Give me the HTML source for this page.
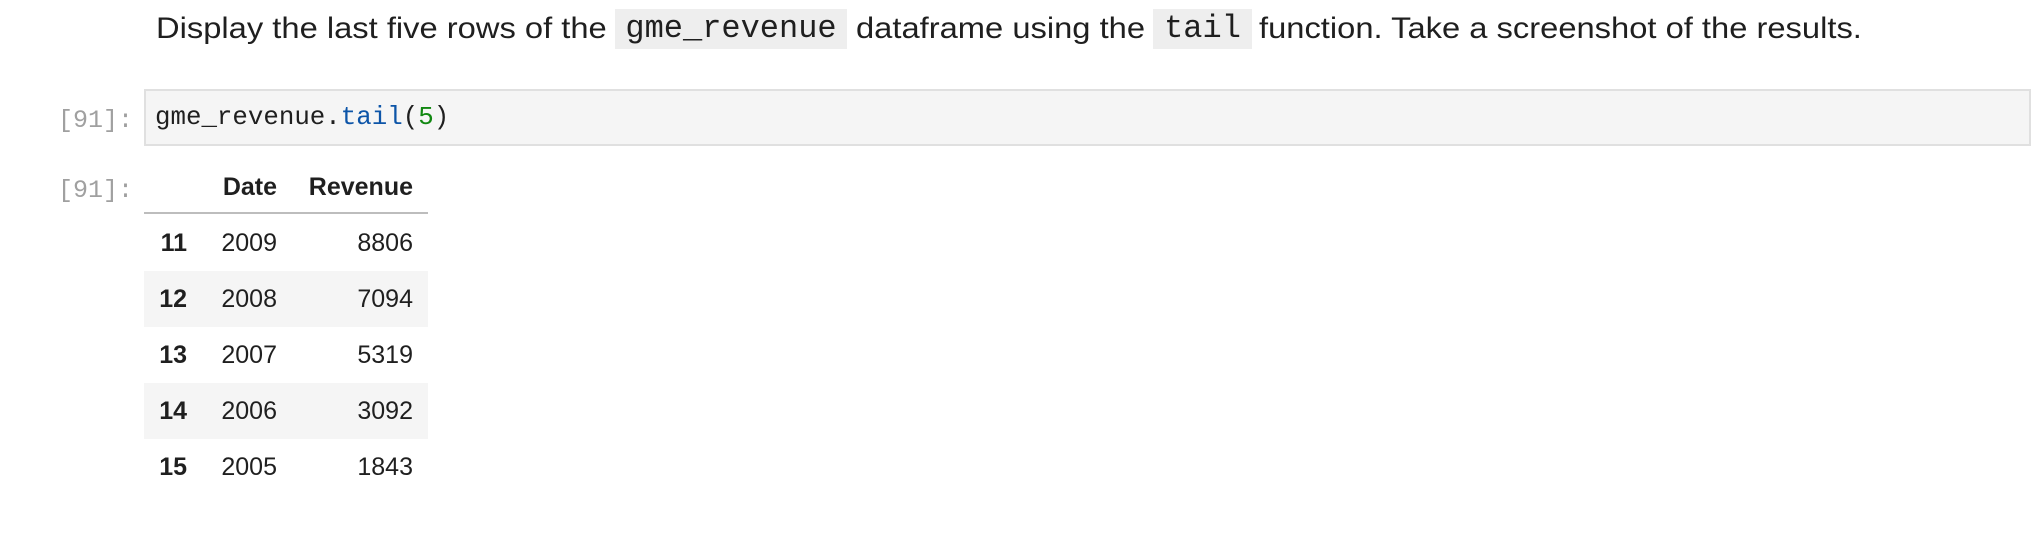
<!DOCTYPE html>
<html><head><meta charset="utf-8"><style>
body{margin:0;width:2040px;height:534px;background:#fff;position:relative;overflow:hidden;font-family:"Liberation Sans",sans-serif;color:#1f1f1f}
.a{position:absolute;white-space:nowrap}
.t{font-size:30px;line-height:40px;top:9px;transform:scaleX(1.09);transform-origin:left center}
.ic{position:absolute;top:9px;height:40px;background:#eeeeee;font-family:"Liberation Mono",monospace;font-size:32px;line-height:40px;text-align:center;color:#1f1f1f}
.mono{font-family:"Liberation Mono",monospace}
.pr{color:#a0a0a0;font-size:25px;font-family:"Liberation Mono",monospace}
.cell{left:144px;top:89px;width:1887px;height:57px;background:#f5f5f5;border:2px solid #e0e0e0;box-sizing:border-box}
.row{left:144px;width:284px;height:56px}
.c{position:absolute;font-size:25px;line-height:56px}
.b{font-weight:bold}
</style></head><body>
<div class="a t" style="left:156px">Display the last five rows of the</div>
<div class="ic" style="left:615px;width:232px">gme_revenue</div>
<div class="a t" style="left:856px">dataframe using the</div>
<div class="ic" style="left:1153px;width:99px">tail</div>
<div class="a t" style="left:1259px">function. Take a screenshot of the results.</div>
<div class="a pr" style="left:58px;top:106px">[91]:</div>
<div class="a cell"></div>
<div class="a mono" style="left:155px;top:103px;font-size:25.8px;color:#1f1f1f">gme_revenue.<span style="color:#0d55a8">tail</span>(<span style="color:#118811">5</span>)</div>
<div class="a pr" style="left:58px;top:176px">[91]:</div>
<div class="a row" style="top:159px"><span class="c b" style="right:151px">Date</span><span class="c b" style="right:15px">Revenue</span></div>
<div class="a" style="left:144px;top:212px;width:284px;height:2px;background:#bdbdbd"></div>
<div class="a row" style="top:215px"><span class="c b" style="right:241px">11</span><span class="c" style="right:151px">2009</span><span class="c" style="right:15px">8806</span></div>
<div class="a row" style="top:271px;background:#f5f5f5"><span class="c b" style="right:241px">12</span><span class="c" style="right:151px">2008</span><span class="c" style="right:15px">7094</span></div>
<div class="a row" style="top:327px"><span class="c b" style="right:241px">13</span><span class="c" style="right:151px">2007</span><span class="c" style="right:15px">5319</span></div>
<div class="a row" style="top:383px;background:#f5f5f5"><span class="c b" style="right:241px">14</span><span class="c" style="right:151px">2006</span><span class="c" style="right:15px">3092</span></div>
<div class="a row" style="top:439px"><span class="c b" style="right:241px">15</span><span class="c" style="right:151px">2005</span><span class="c" style="right:15px">1843</span></div>
</body></html>
